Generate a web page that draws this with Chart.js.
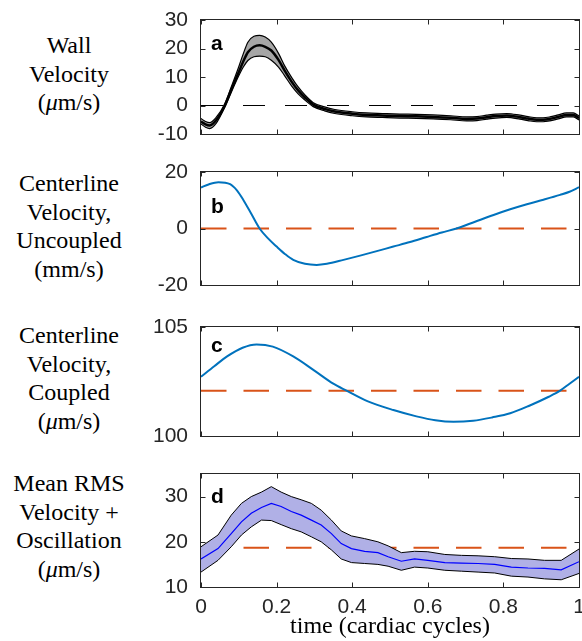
<!DOCTYPE html>
<html>
<head>
<meta charset="utf-8">
<script src="https://cdn.jsdelivr.net/npm/chart.js@4.4.1/dist/chart.umd.min.js"></script>
<style>
  body { margin: 0; background: #fff; width: 582px; height: 641px; position: relative; overflow: hidden; }
  canvas { position: absolute; left: 140px; }
  .lab { position: absolute; left: 0; width: 138px; text-align: center; font: 24px 'Liberation Serif', serif; line-height: 28.5px; color: #000; }
</style>
</head>
<body>
<div class="lab" style="top:31px">Wall<br>Velocity<br>(<i>μ</i>m/s)</div>
<div class="lab" style="top:169px">Centerline<br>Velocity,<br>Uncoupled<br>(mm/s)</div>
<div class="lab" style="top:321px">Centerline<br>Velocity,<br>Coupled<br>(<i>μ</i>m/s)</div>
<div class="lab" style="top:469px">Mean RMS<br>Velocity +<br>Oscillation<br>(<i>μ</i>m/s)</div>

<canvas id="chartA" width="442" height="154" style="top:0px"></canvas>
<canvas id="chartB" width="442" height="153" style="top:152px"></canvas>
<canvas id="chartC" width="442" height="149" style="top:307px"></canvas>
<canvas id="chartD" width="442" height="187" style="top:454px"></canvas>

<script>
// shared x axis
const xTicks = [0, 0.2, 0.4, 0.6, 0.8, 1];
const xTitle = 'time (cardiac cycles)';

// a: wall velocity (um/s), mean with band
const tA = [0, 0.012, 0.023, 0.04, 0.063, 0.08, 0.098, 0.112, 0.124, 0.14, 0.155, 0.17, 0.186, 0.205, 0.221,
  0.24, 0.257, 0.275, 0.297, 0.327, 0.354, 0.4, 0.438, 0.48, 0.526, 0.57, 0.614, 0.66, 0.703, 0.73, 0.756,
  0.78, 0.809, 0.844, 0.865, 0.888, 0.905, 0.923, 0.945, 0.967, 0.985, 1];
const wallMean = [-5.6, -6.6, -7.0, -5.2, 0, 5.5, 11.1, 15.5, 18.7, 20.6, 21.1, 20.6, 19.3, 16.0, 12.3,
  8.3, 5.3, 2.8, 0.3, -1.2, -2.1, -2.9, -3.3, -3.5, -3.7, -3.8, -4.0, -4.3, -4.7, -4.6, -4.1,
  -3.7, -3.5, -4.1, -4.6, -5.0, -5.0, -4.7, -4.0, -3.3, -3.3, -4.4];
const wallUpper = [-4.6, -5.6, -6.0, -4.2, 0.6, 6.5, 12.9, 18.2, 22.2, 24.3, 24.6, 24.0, 22.2, 18.3, 14.0,
  9.8, 6.5, 3.7, 1.0, -0.5, -1.4, -2.2, -2.6, -2.8, -3.0, -3.1, -3.3, -3.6, -4.0, -3.9, -3.4,
  -3.0, -2.8, -3.4, -3.9, -4.3, -4.3, -4.0, -3.3, -2.6, -2.6, -3.7];
const wallLower = [-6.5, -7.6, -8.1, -6.3, -0.6, 4.6, 9.9, 13.5, 15.8, 17.1, 17.3, 17.1, 15.9, 13.5, 10.5,
  6.8, 4.1, 1.9, -0.4, -1.9, -2.8, -3.6, -4.0, -4.2, -4.4, -4.5, -4.7, -5.0, -5.4, -5.3, -4.8,
  -4.4, -4.2, -4.8, -5.3, -5.7, -5.7, -5.4, -4.7, -4.0, -4.0, -5.1];
const wallRef = 0;
const yTicksA = [-10, 0, 10, 20, 30];

// b: centerline velocity, uncoupled (mm/s)
const tB = [0, 0.02, 0.046, 0.077, 0.095, 0.112, 0.133, 0.155, 0.178, 0.2, 0.222, 0.244, 0.275, 0.306, 0.333,
  0.377, 0.421, 0.465, 0.509, 0.553, 0.597, 0.637, 0.676, 0.725, 0.774, 0.818, 0.862, 0.906, 0.95, 0.975, 1];
const uncoupled = [14.5, 15.6, 16.4, 15.7, 13.5, 10.1, 5.2, 0, -3.6, -6.4, -9.0, -11.1, -12.5, -12.9, -12.5,
  -11.1, -9.6, -8.0, -6.4, -4.8, -3.0, -1.4, 0, 2.4, 4.8, 6.8, 8.6, 10.2, 11.9, 13.0, 14.6];
const uncoupledRef = 0;
const yTicksB = [-20, 0, 20];

// c: centerline velocity, coupled (um/s)
const tC = [0, 0.035, 0.069, 0.11, 0.147, 0.19, 0.244, 0.3, 0.35, 0.385, 0.44, 0.509, 0.57, 0.62, 0.668,
  0.72, 0.77, 0.818, 0.87, 0.92, 0.95, 0.975, 1];
const coupled = [102.72, 103.2, 103.65, 104.05, 104.2, 104.1, 103.65, 103.0, 102.4, 102.08, 101.6, 101.19,
  100.9, 100.72, 100.65, 100.7, 100.85, 101.04, 101.4, 101.8, 102.08, 102.4, 102.72];
const coupledRef = 102.08;
const yTicksC = [100, 105];

// d: mean RMS velocity + oscillation (um/s)
const tD = [0, 0.045, 0.08, 0.107, 0.133, 0.16, 0.186, 0.212, 0.239, 0.265, 0.292, 0.318, 0.345, 0.371, 0.398,
  0.433, 0.468, 0.495, 0.53, 0.565, 0.6, 0.645, 0.689, 0.733, 0.777, 0.821, 0.865, 0.909, 0.953, 1];
const rmsMean = [16.2, 18.5, 21.8, 24.4, 26.3, 27.6, 28.5, 27.8, 26.7, 25.9, 24.8, 23.7, 21.8, 19.6, 18.5,
  17.9, 17.6, 16.7, 15.7, 16.2, 15.9, 15.4, 15.3, 15.2, 15.0, 14.4, 14.2, 14.1, 13.8, 15.6];
const rmsUpper = [18.9, 21.5, 25.9, 28.5, 30.0, 31.0, 32.2, 31.0, 30.0, 29.3, 28.5, 27.0, 24.8, 22.4, 21.3,
  20.7, 20.0, 19.1, 17.6, 17.9, 17.8, 17.2, 17.0, 16.9, 16.7, 16.3, 16.2, 15.9, 15.9, 18.4];
const rmsLower = [13.3, 15.9, 18.9, 21.5, 23.3, 24.8, 24.7, 23.8, 22.9, 22.2, 21.1, 20.0, 18.2, 16.2, 15.4,
  15.2, 15.0, 14.6, 13.7, 14.4, 14.2, 13.7, 13.5, 13.3, 13.1, 12.4, 12.2, 11.8, 11.6, 13.0];
const rmsRef = 18.7;
const yTicksD = [10, 20, 30];

const axisColor = '#262626';
const blue = '#0072BD';
const orange = '#D95319';

function pts(ts, vs) {
  return ts.map((t, i) => ({ x: t, y: vs[i] }));
}

function refLine(v, color, dash) {
  return {
    data: [{ x: 0, y: v }, { x: 1, y: v }],
    borderColor: color,
    borderWidth: color === orange ? 2 : 1,
    borderDash: dash,
    fill: false,
  };
}

// MATLAB style box with inward ticks, plus the panel letter
const framePlugin = {
  id: 'frame',
  afterDraw(chart, args, opts) {
    const { ctx, chartArea: a } = chart;
    const { x, y } = chart.scales;
    const L = Math.round(a.left) - 0.5;
    const R = Math.round(a.right) + 0.5;
    const T = Math.round(a.top) - 0.5;
    const B = Math.round(a.bottom) + 0.5;
    ctx.save();
    ctx.strokeStyle = axisColor;
    ctx.lineWidth = 1;
    ctx.strokeRect(L, T, R - L, B - T);
    ctx.beginPath();
    x.ticks.forEach((tk) => {
      const px = Math.round(x.getPixelForValue(tk.value)) + 0.5;
      ctx.moveTo(px, B); ctx.lineTo(px, B - 5);
      ctx.moveTo(px, T); ctx.lineTo(px, T + 5);
    });
    y.ticks.forEach((tk) => {
      const py = Math.round(y.getPixelForValue(tk.value)) + 0.5;
      ctx.moveTo(L, py); ctx.lineTo(L + 5, py);
      ctx.moveTo(R, py); ctx.lineTo(R - 5, py);
    });
    ctx.stroke();
    ctx.fillStyle = '#000';
    ctx.font = 'bold 21px "Liberation Sans"';
    ctx.textBaseline = 'alphabetic';
    ctx.fillText(opts.letter, a.left + 10, a.top + opts.dy);
    ctx.restore();
  },
};

function makeChart(id, p) {
  return new Chart(document.getElementById(id), {
    type: 'line',
    data: { datasets: p.datasets },
    options: {
      responsive: false,
      animation: false,
      layout: { padding: { top: 20, right: 3, left: 0, bottom: 0 } },
      elements: { point: { radius: 0 } },
      plugins: {
        legend: { display: false },
        tooltip: { enabled: false },
        frame: { letter: p.letter, dy: p.dy },
      },
      scales: {
        x: {
          type: 'linear',
          min: 0,
          max: 1,
          grid: { display: false },
          border: { display: false },
          afterBuildTicks: (s) => { s.ticks = xTicks.map((v) => ({ value: v })); },
          afterFit: (s) => { s.height = p.xHeight; s.paddingLeft = 0; s.paddingRight = 0; },
          ticks: {
            display: p.showX,
            autoSkip: false,
            maxRotation: 0,
            padding: 0,
            color: axisColor,
            font: { family: 'Liberation Sans', size: 21 },
            callback: (v) => String(v),
          },
          title: {
            display: p.showX,
            text: xTitle,
            color: '#000',
            padding: 0,
            font: { family: 'Liberation Serif', size: 24 },
          },
        },
        y: {
          min: p.yMin,
          max: p.yMax,
          grid: { display: false },
          border: { display: false },
          afterBuildTicks: (s) => { s.ticks = p.yTicks.map((v) => ({ value: v })); },
          afterFit: (s) => { s.width = 61; s.paddingTop = 0; s.paddingBottom = 0; },
          ticks: {
            padding: 5,
            color: axisColor,
            font: { family: 'Liberation Sans', size: 21 },
            callback: (v) => String(v),
          },
        },
      },
    },
    plugins: [framePlugin],
  });
}

makeChart('chartA', {
  yMin: -10, yMax: 30, yTicks: yTicksA, letter: 'a', dy: 30, xHeight: 20, showX: false,
  datasets: [
    { data: pts(tA, wallMean), borderColor: '#000', borderWidth: 2.5, cubicInterpolationMode: 'monotone', fill: false },
    { data: pts(tA, wallLower), borderColor: '#000', borderWidth: 1.2, cubicInterpolationMode: 'monotone', fill: false },
    { data: pts(tA, wallUpper), borderColor: '#000', borderWidth: 1.2, cubicInterpolationMode: 'monotone', fill: '-1', backgroundColor: '#a6a6a6' },
    refLine(wallRef, '#000', [22, 20]),
  ],
});

makeChart('chartB', {
  yMin: -20, yMax: 20, yTicks: yTicksB, letter: 'b', dy: 41, xHeight: 20, showX: false,
  datasets: [
    { data: pts(tB, uncoupled), borderColor: blue, borderWidth: 2, cubicInterpolationMode: 'monotone', fill: false },
    refLine(uncoupledRef, orange, [25.5, 17]),
  ],
});

makeChart('chartC', {
  yMin: 100, yMax: 105, yTicks: yTicksC, letter: 'c', dy: 25, xHeight: 20, showX: false,
  datasets: [
    { data: pts(tC, coupled), borderColor: blue, borderWidth: 2, cubicInterpolationMode: 'monotone', fill: false },
    refLine(coupledRef, orange, [25.5, 17]),
  ],
});

makeChart('chartD', {
  yMin: 10, yMax: 35, yTicks: yTicksD, letter: 'd', dy: 29, xHeight: 54, showX: true,
  datasets: [
    { data: pts(tD, rmsMean), borderColor: '#0000ff', borderWidth: 1.2, tension: 0, fill: false },
    { data: pts(tD, rmsLower), borderColor: '#000', borderWidth: 1, tension: 0, fill: false },
    { data: pts(tD, rmsUpper), borderColor: '#000', borderWidth: 1, tension: 0, fill: '-1', backgroundColor: 'rgb(176,176,230)' },
    refLine(rmsRef, orange, [25.5, 17]),
  ],
});
</script>
</body>
</html>
